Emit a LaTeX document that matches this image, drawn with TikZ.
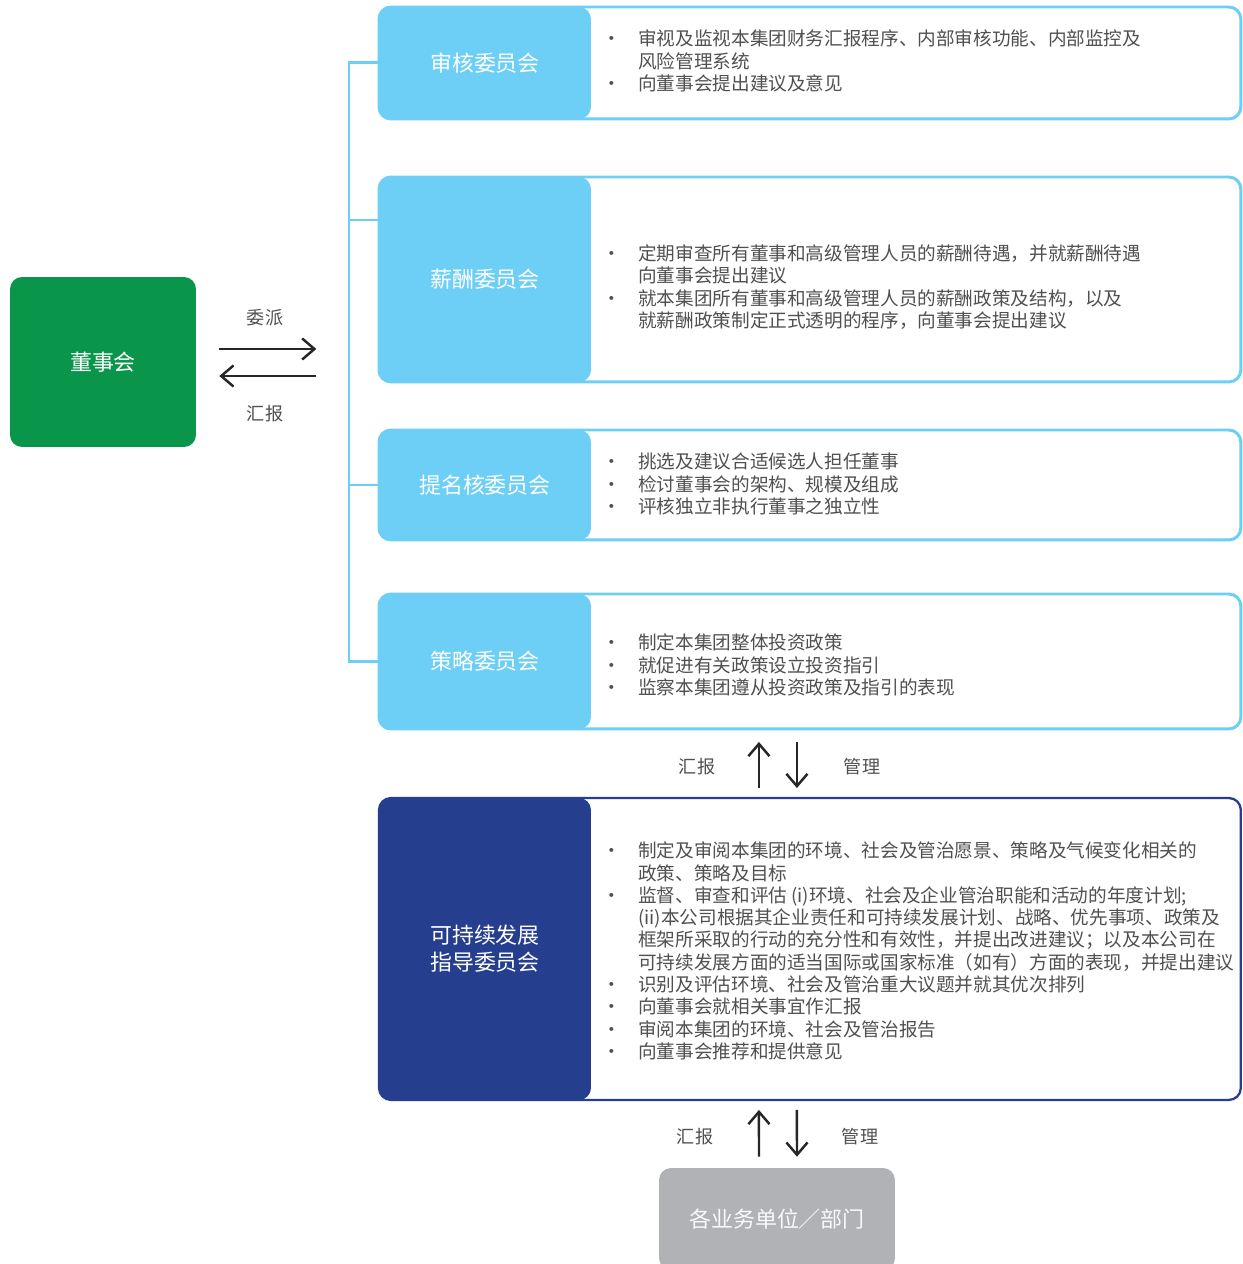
\documentclass[tikz,border=0pt]{standalone}
\usepackage{fontspec}
\setmainfont{Noto Sans CJK SC}
\usepackage{xcolor}
\usetikzlibrary{arrows.meta,positioning}

\definecolor{boardgreen}{HTML}{0A964A}
\definecolor{comcyan}{HTML}{6DCFF6}
\definecolor{esgblue}{HTML}{253E8E}
\definecolor{unitgray}{HTML}{B1B2B6}
\definecolor{bodygray}{HTML}{505050}

\newcommand{\bpt}{\makebox[0.72cm][l]{·}}
\newcommand{\bgap}{\hspace*{0.72cm}}

\begin{document}
\begin{tikzpicture}[x=0.02cm, y=-0.02cm,
    panel/.style={draw=comcyan, fill=white, line width=1.7pt, rounded corners=0.24cm,
        minimum width=17.24cm, anchor=north west, outer sep=0pt,
        path picture={\fill[comcyan] (path picture bounding box.north west)
            rectangle ([xshift=4.24cm]path picture bounding box.south west);}},
    esgpanel/.style={panel, draw=esgblue, line width=1.3pt,
        path picture={\fill[esgblue] (path picture bounding box.north west)
            rectangle ([xshift=4.24cm]path picture bounding box.south west);}},
    title/.style={text=white, font=\fontsize{12.5pt}{15.5pt}\selectfont, align=center},
    body/.style={text=bodygray, font=\fontsize{10.6pt}{12.7pt}\selectfont, align=left,
        anchor=west, inner sep=0pt},
    tag/.style={text=bodygray, font=\fontsize{10.3pt}{12pt}\selectfont},
    flow/.style={-{Straight Barb[length=7pt,width=12pt]}, line width=1.4pt, black!85},
    bus/.style={draw=comcyan, line width=1.7pt}
]
\useasboundingbox (0,0) rectangle (1243,1264);

% Board
\node[fill=boardgreen, rounded corners=0.24cm, minimum width=3.72cm, minimum height=3.4cm,
    title] (board) at (103,362) {董事会};
\draw[flow] ([shift={(23,-13)}]board.east) -- ++(97,0);
\draw[flow] ([shift={(120,14)}]board.east) -- ++(-97,0);
\node[tag] (assign) at (265,318) {委派};
\node[tag] (report0) at (265,414) {汇报};

% Committee panels
\node[panel, minimum height=2.24cm] (audit) at (379,7) {};
\node[panel, minimum height=4.1cm] (pay) at (379,177) {};
\node[panel, minimum height=2.2cm] (nom) at (379,430) {};
\node[panel, minimum height=2.7cm] (strat) at (379,594) {};
\node[esgpanel, minimum height=6.04cm] (esg) at (379,798) {};

\node[title] (audit-title) at ([xshift=2.12cm]audit.west) {审核委员会};
\node[title] (pay-title) at ([xshift=2.12cm]pay.west) {薪酬委员会};
\node[title] (nom-title) at ([xshift=2.12cm]nom.west) {提名核委员会};
\node[title] (strat-title) at ([xshift=2.12cm]strat.west) {策略委员会};
\node[title] (esg-title) at ([xshift=2.12cm]esg.west) {可持续发展\\指导委员会};

% Bus from board side
\coordinate (pay-in) at (379,220);
\draw[bus] (audit.west) -- ++(-30,0) |- (strat.west);
\draw[bus] (pay-in) -- ++(-30,0);
\draw[bus] (nom.west) -- ++(-30,0);

% Duties
\node[body] (audit-text) at (602,61) {\bpt 审视及监视本集团财务汇报程序、内部审核功能、内部监控及\\
    \bgap 风险管理系统\\
    \bpt 向董事会提出建议及意见};
\node[body] (pay-text) at (602,287) {\bpt 定期审查所有董事和高级管理人员的薪酬待遇，并就薪酬待遇\\
    \bgap 向董事会提出建议\\
    \bpt 就本集团所有董事和高级管理人员的薪酬政策及结构，以及\\
    \bgap 就薪酬政策制定正式透明的程序，向董事会提出建议};
\node[body] (nom-text) at (602,484) {\bpt 挑选及建议合适候选人担任董事\\
    \bpt 检讨董事会的架构、规模及组成\\
    \bpt 评核独立非执行董事之独立性};
\node[body] (strat-text) at (602,665) {\bpt 制定本集团整体投资政策\\
    \bpt 就促进有关政策设立投资指引\\
    \bpt 监察本集团遵从投资政策及指引的表现};
\node[body] (esg-text) at (602,951) {\bpt 制定及审阅本集团的环境、社会及管治愿景、策略及气候变化相关的\\
    \bgap 政策、策略及目标\\
    \bpt 监督、审查和评估 (i)环境、社会及企业管治职能和活动的年度计划;\\
    \bgap (ii)本公司根据其企业责任和可持续发展计划、战略、优先事项、政策及\\
    \bgap 框架所采取的行动的充分性和有效性，并提出改进建议；以及本公司在\\
    \bgap 可持续发展方面的适当国际或国家标准（如有）方面的表现，并提出建议\\
    \bpt 识别及评估环境、社会及管治重大议题并就其优次排列\\
    \bpt 向董事会就相关事宜作汇报\\
    \bpt 审阅本集团的环境、社会及管治报告\\
    \bpt 向董事会推荐和提供意见};

% Reporting between strategy and ESG
\draw[flow] ([xshift=-1.02cm,yshift=0.2cm]esg.north) -- ([xshift=-1.02cm,yshift=-0.26cm]strat.south);
\draw[flow] ([xshift=-0.26cm,yshift=-0.26cm]strat.south) -- ([xshift=-0.26cm,yshift=0.2cm]esg.north);
\node[tag] (report1) at (697,767) {汇报};
\node[tag] (manage1) at (862,767) {管理};

% Business units
\begin{scope}
\clip (0,0) rectangle (1243,1264);
\node[fill=unitgray, rounded corners=0.24cm, minimum width=4.72cm, minimum height=2.04cm,
    title, text=white!92!unitgray] (unit) at (777,1219) {各业务单位／部门};
\end{scope}
\draw[flow] ([xshift=-0.36cm,yshift=0.22cm]unit.north) -- ([xshift=-1.02cm,yshift=-0.2cm]esg.south);
\draw[flow] ([xshift=-0.26cm,yshift=-0.2cm]esg.south) -- ([xshift=0.4cm,yshift=0.22cm]unit.north);
\node[tag] (report2) at (695,1137) {汇报};
\node[tag] (manage2) at (860,1137) {管理};
\end{tikzpicture}
\end{document}
